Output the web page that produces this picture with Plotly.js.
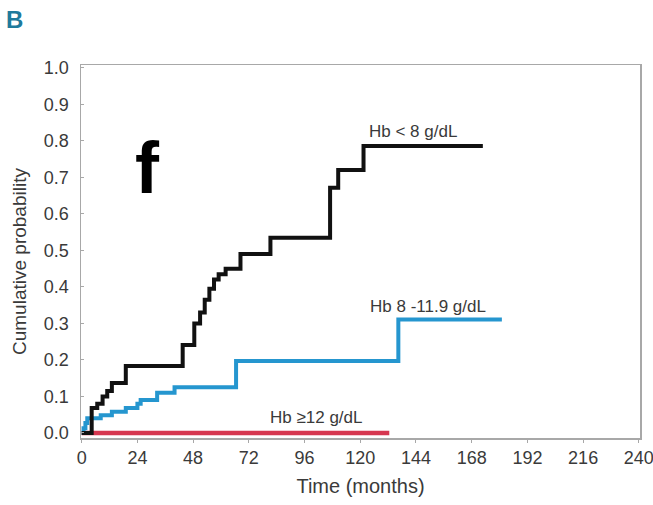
<!DOCTYPE html>
<html>
<head>
<meta charset="utf-8">
<script src="https://cdn.plot.ly/plotly-3.0.1.min.js"></script>
<style>
  html, body { margin: 0; padding: 0; background: #fff; }
  #chart { width: 653px; height: 505px; }
</style>
</head>
<body>
<div id="chart"></div>
<script>
// Hb < 8 g/dL
const lowTime  = [0, 4.3, 6.7, 9, 11, 13, 19, 43.5, 48.5, 51, 53, 55, 57, 59, 62, 68.4, 81.3, 107, 110.5, 121.4, 172.8];
const lowProb  = [0, 0.068, 0.08, 0.10, 0.115, 0.137, 0.183, 0.241, 0.30, 0.33, 0.365, 0.395, 0.42, 0.435, 0.45, 0.49, 0.535, 0.672, 0.72, 0.786, 0.786];
// Hb 8 - 11.9 g/dL
const midTime  = [0, 0.8, 1.6, 2.4, 8.2, 13, 19, 24, 25.4, 32.5, 40, 66.5, 136.4, 181];
const midProb  = [0, 0.013, 0.027, 0.04, 0.048, 0.058, 0.068, 0.08, 0.09, 0.11, 0.125, 0.197, 0.311, 0.311];
// Hb >= 12 g/dL
const highTime = [0, 132.5];
const highProb = [0, 0];

const xTicks = [0, 24, 48, 72, 96, 120, 144, 168, 192, 216, 240];
const yTicks = [0, 0.1, 0.2, 0.3, 0.4, 0.5, 0.6, 0.7, 0.8, 0.9, 1.0];
const yTickText = ['0.0', '0.1', '0.2', '0.3', '0.4', '0.5', '0.6', '0.7', '0.8', '0.9', '1.0'];

const seriesLabels = ['Hb < 8 g/dL', 'Hb 8 -11.9 g/dL', 'Hb \u226512 g/dL'];

const FONT = 'Liberation Sans, Arial, sans-serif';
const TXT = '#3a3a3a';

const traces = [
  { x: highTime, y: highProb, mode: 'lines', line: { shape: 'hv', color: '#d63750', width: 4.5 }, name: seriesLabels[2] },
  { x: midTime,  y: midProb,  mode: 'lines', line: { shape: 'hv', color: '#2596cf', width: 4 }, name: seriesLabels[1] },
  { x: lowTime,  y: lowProb,  mode: 'lines', line: { shape: 'hv', color: '#111111', width: 4 }, name: seriesLabels[0] }
];

const W = 653, H = 505;
const M = { l: 81, r: 13, t: 65, b: 67 };
function px2paperX(px) { return (px - M.l) / (W - M.l - M.r); }
function px2paperY(py) { return 1 - (py - M.t) / (H - M.t - M.b); }

const layout = {
  width: W, height: H,
  margin: M,
  paper_bgcolor: '#ffffff', plot_bgcolor: '#ffffff',
  showlegend: false,
  font: { family: FONT, color: TXT, size: 18 },
  xaxis: {
    range: [-0.3, 240.5],
    tickvals: xTicks, ticktext: xTicks.map(String),
    showgrid: false, zeroline: false,
    showline: true, linecolor: '#a8a8a8', linewidth: 1.5, mirror: true,
    ticks: 'outside', ticklen: 3, tickcolor: '#a8a8a8',
    ticklabeloverflow: 'allow',
    tickfont: { family: FONT, size: 18, color: TXT },
    title: { text: 'Time (months)', font: { family: FONT, size: 20, color: TXT }, standoff: 12 }
  },
  yaxis: {
    range: [-0.014, 1.008],
    tickvals: yTicks, ticktext: yTickText,
    showgrid: false, zeroline: false,
    showline: true, linecolor: '#a8a8a8', linewidth: 1.5, mirror: true,
    ticks: 'inside', ticklen: 3, tickcolor: '#a8a8a8',
    ticklabelstandoff: 7,
    tickfont: { family: FONT, size: 18, color: TXT }
  },
  annotations: [
    { text: seriesLabels[0], x: 142.8, y: 0.825, xref: 'x', yref: 'y', showarrow: false, xanchor: 'center', yanchor: 'middle', font: { family: FONT, size: 17, color: TXT } },
    { text: seriesLabels[1], x: 149.3, y: 0.345, xref: 'x', yref: 'y', showarrow: false, xanchor: 'center', yanchor: 'middle', font: { family: FONT, size: 17, color: TXT } },
    { text: seriesLabels[2], x: 101, y: 0.041, xref: 'x', yref: 'y', showarrow: false, xanchor: 'center', yanchor: 'middle', font: { family: FONT, size: 17, color: TXT } },
    { text: '<b>f</b>', x: px2paperX(147), y: px2paperY(168), xref: 'paper', yref: 'paper', showarrow: false, xanchor: 'center', yanchor: 'middle', font: { family: FONT, size: 72, color: '#000000' } },
    { text: '<b>B</b>', x: px2paperX(14), y: px2paperY(20), xref: 'paper', yref: 'paper', showarrow: false, xanchor: 'center', yanchor: 'middle', font: { family: FONT, size: 24, color: '#1f7a9c' } },
    { text: 'Cumulative probability', x: px2paperX(19), y: px2paperY(262), xref: 'paper', yref: 'paper', showarrow: false, textangle: -90, xanchor: 'center', yanchor: 'middle', font: { family: FONT, size: 19, color: TXT } }
  ]
};

Plotly.newPlot('chart', traces, layout, { displayModeBar: false, staticPlot: true });
</script>
</body>
</html>
